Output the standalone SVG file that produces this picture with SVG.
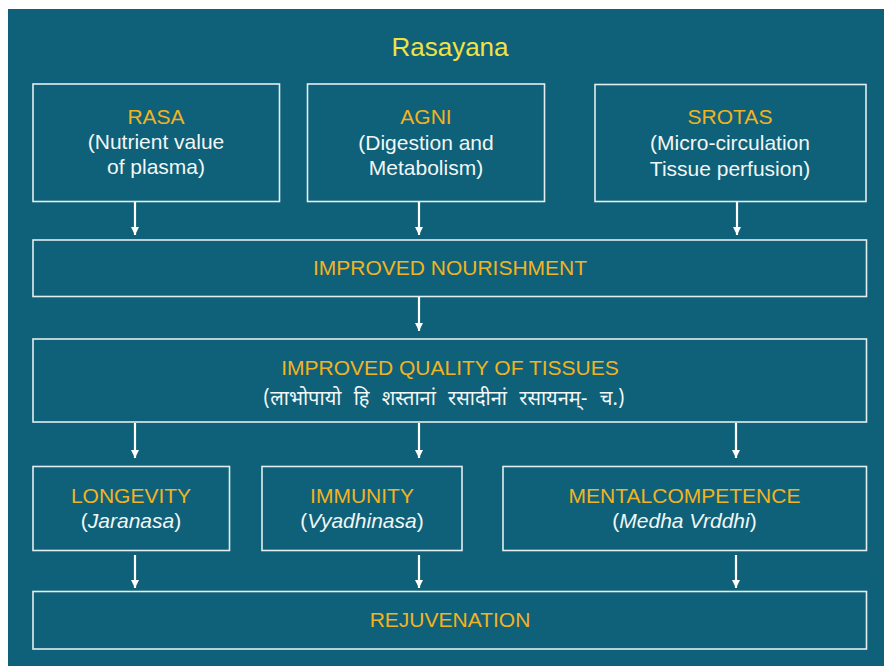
<svg xmlns="http://www.w3.org/2000/svg" width="884" height="666" viewBox="0 0 884 666">
<defs>
<style>
.bg{fill:#0e6178}
.box{fill:#0e6178;stroke:#e4eef0;stroke-width:1.6}
.t{font-family:"Liberation Sans",Arial,sans-serif;font-size:21px;text-anchor:middle}
.y{fill:#f2b321}
.w{fill:#f2f6f7}
.title{font-family:"Liberation Sans",Arial,sans-serif;font-size:26px;text-anchor:middle;fill:#f1e245}
.dev{font-family:"Noto Sans Devanagari","Lohit Devanagari","FreeSans","Noto Sans",sans-serif;font-size:20px;text-anchor:middle;fill:#f2f6f7;word-spacing:7px}
.c{stroke:#ffffff;stroke-width:2.2;fill:none;marker-end:url(#ah)}
</style>
<marker id="ah" viewBox="0 0 8 8" refX="8" refY="4" markerWidth="8" markerHeight="8" markerUnits="userSpaceOnUse" orient="auto">
<path d="M0,0 L8,4 L0,8 Z" fill="#ffffff"/>
</marker>
</defs>
<rect class="bg" x="8" y="9" width="876" height="657"/>
<text class="title" x="450" y="56">Rasayana</text>
<g id="rasa">
<rect class="box" x="33" y="84" width="246.5" height="117.5"/>
<text class="t y" x="156" y="124">RASA</text>
<text class="t w" x="156" y="149">(Nutrient value</text>
<text class="t w" x="156" y="174">of plasma)</text>
</g>
<g id="agni">
<rect class="box" x="307.5" y="84" width="237" height="117.5"/>
<text class="t y" x="426" y="124">AGNI</text>
<text class="t w" x="426" y="150">(Digestion and</text>
<text class="t w" x="426" y="175">Metabolism)</text>
</g>
<g id="srotas">
<rect class="box" x="595" y="84.5" width="271" height="117"/>
<text class="t y" x="730" y="124">SROTAS</text>
<text class="t w" x="730" y="150">(Micro-circulation</text>
<text class="t w" x="730" y="176">Tissue perfusion)</text>
</g>
<g id="nourishment">
<rect class="box" x="33" y="240" width="833.5" height="56.5"/>
<text class="t y" x="450" y="275">IMPROVED NOURISHMENT</text>
</g>
<g id="quality">
<rect class="box" x="33" y="339" width="833.5" height="83"/>
<text class="t y" x="450" y="375">IMPROVED QUALITY OF TISSUES</text>
<text class="dev" x="444" y="405">(लाभोपायो हि शस्तानां रसादीनां रसायनम्- च.)</text>
</g>
<g id="longevity">
<rect class="box" x="33" y="466.5" width="196.5" height="84"/>
<text class="t y" x="131" y="503">LONGEVITY</text>
<text class="t w" x="131" y="528">(<tspan font-style="italic">Jaranasa</tspan>)</text>
</g>
<g id="immunity">
<rect class="box" x="262" y="466.5" width="200" height="84"/>
<text class="t y" x="362" y="503">IMMUNITY</text>
<text class="t w" x="362" y="528">(<tspan font-style="italic">Vyadhinasa</tspan>)</text>
</g>
<g id="mental">
<rect class="box" x="503" y="466.5" width="363.5" height="84"/>
<text class="t y" x="684.5" y="503">MENTALCOMPETENCE</text>
<text class="t w" x="684.5" y="528">(<tspan font-style="italic">Medha Vrddhi</tspan>)</text>
</g>
<g id="rejuvenation">
<rect class="box" x="33" y="591.5" width="833.5" height="57.5"/>
<text class="t y" x="450" y="627">REJUVENATION</text>
</g>
<g id="connectors">
<line class="c" x1="135" y1="202" x2="135" y2="235"/>
<line class="c" x1="419" y1="202" x2="419" y2="235"/>
<line class="c" x1="737" y1="202" x2="737" y2="235"/>
<line class="c" x1="419" y1="297" x2="419" y2="331"/>
<line class="c" x1="135" y1="423" x2="135" y2="458"/>
<line class="c" x1="419" y1="423" x2="419" y2="458"/>
<line class="c" x1="736" y1="423" x2="736" y2="458"/>
<line class="c" x1="135" y1="555" x2="135" y2="588"/>
<line class="c" x1="419" y1="555" x2="419" y2="588"/>
<line class="c" x1="736" y1="555" x2="736" y2="588"/>
</g>
</svg>
